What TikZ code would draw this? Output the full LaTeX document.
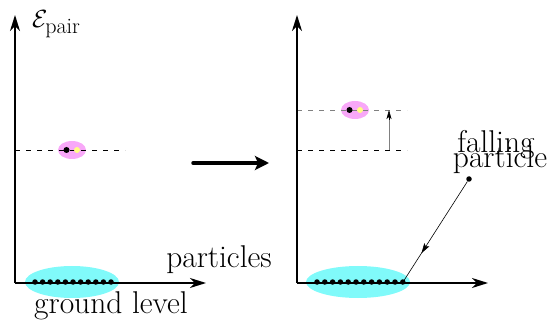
\documentclass[tikz,border=0pt]{standalone}
\usepackage{fontspec}
\usetikzlibrary{arrows.meta,calc}
\definecolor{cy}{RGB}{128,250,250}
\definecolor{pk}{RGB}{248,168,248}
\definecolor{yl}{RGB}{255,255,130}
\begin{document}
\begin{tikzpicture}[x=1pt,y=-1pt,
  axis/.style={line width=1.4pt,-{Stealth[length=16pt,width=10pt,inset=5pt]}},
  dot/.style={circle,fill=black,inner sep=0pt,minimum size=5.5pt},
  lbl/.style={font=\fontsize{31.5}{32}\selectfont,inner sep=0pt}]
\useasboundingbox (0,0) rectangle (549,323);
% left panel
\fill[cy] (72,282) ellipse (47pt and 16pt);
\fill[pk] (72,150) ellipse (14pt and 9pt);
\draw[dash pattern=on 5pt off 6pt] (15,150) -- (125,150);
\fill[black] (66.5,150) circle (3pt);
\fill[yl] (77,150) circle (3pt);
\coordinate (o1) at (15,283);
\coordinate (y1) at (15,15);
\coordinate (x1) at (206,283);
\draw[axis] (o1) -- (y1);
\draw[axis] (o1) -- (x1);
\foreach \i in {0,...,10} \node[dot] at (35+7.6*\i,282) {};
\node[lbl,anchor=base west] (E) at (32,28) {$\mathcal{E}_{\mathrm{pair}}$};
\node[lbl,anchor=base] (gl) at (111,313) {ground level};
\node[lbl,anchor=base] (pt) at (219,268) {particles};
% middle arrow
\coordinate (m1) at (193,163);
\coordinate (m2) at (269,163);
\draw[line width=3.5pt,line cap=round,-{Stealth[length=14pt,width=14pt,inset=3pt]}] (m1) -- (m2);
% right panel
\fill[cy] (358,282) ellipse (52pt and 16pt);
\fill[pk] (355,110) ellipse (14pt and 9pt);
\draw[gray,dash pattern=on 5pt off 6pt] (297,110) -- (407,110);
\draw[dash pattern=on 5pt off 6pt] (297,150) -- (407,150);
\fill[black] (349.5,110) circle (3pt);
\fill[yl] (360,110) circle (3pt);
\coordinate (a1) at (389,150);
\coordinate (a2) at (389,110);
\draw[gray,line width=0.8pt] (a1) -- (389,118);
\draw[-{Stealth[length=9pt,width=5pt,inset=2pt]},black,line width=0.6pt] (389,120) -- (a2);
\coordinate (o2) at (297,283);
\coordinate (y2) at (297,15);
\coordinate (x2) at (488,283);
\draw[axis] (o2) -- (y2);
\draw[axis] (o2) -- (x2);
\foreach \i in {0,...,11} \node[dot] at (317+7.8*\i,282) {};
\node[dot] (fp) at (469,179) {};
\coordinate (land) at (403,282);
\draw[line width=0.6pt,-{Stealth[length=10pt,width=6pt,inset=2pt]}] (fp) -- ($(fp)!0.72!(land)$);
\draw[line width=0.6pt] ($(fp)!0.7!(land)$) -- (land);
\node[lbl,anchor=base] (fl1) at (496,153) {falling};
\node[lbl,anchor=base] (fl2) at (500,168) {particle};
\end{tikzpicture}
\end{document}
